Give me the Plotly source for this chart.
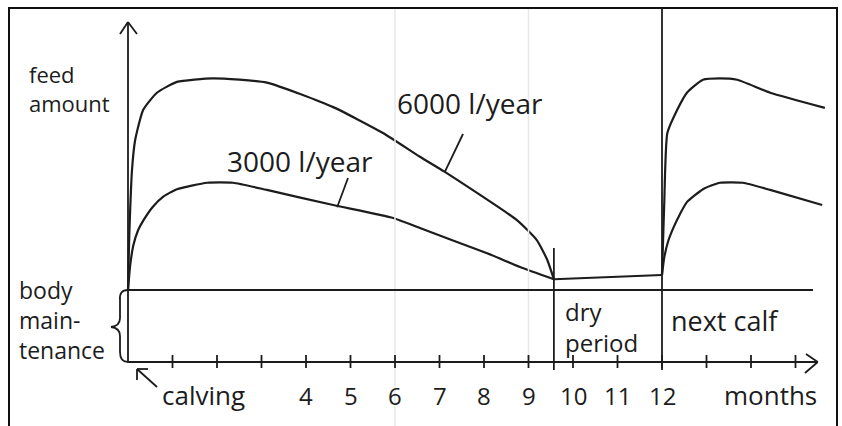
import plotly.graph_objects as go

# ---------------- data (months, feed amount in units of body maintenance) ----------
m6000 = [0.0, 0.02, 0.04, 0.09, 0.16, 0.34, 0.65, 1.10, 1.91, 3.12, 4.61, 5.73, 6.56, 7.12, 8.74, 9.19, 9.42, 9.57]
v6000 = [1.00, 1.56, 1.97, 2.67, 3.08, 3.50, 3.74, 3.89, 3.94, 3.88, 3.54, 3.18, 2.85, 2.64, 1.97, 1.69, 1.42, 1.15]

m3000 = [0.0, 0.05, 0.12, 0.22, 0.36, 0.55, 0.80, 1.10, 1.78, 2.36, 3.12, 4.61, 5.96, 6.56, 8.07, 8.81, 9.57]
v3000 = [1.00, 1.35, 1.62, 1.82, 1.98, 2.15, 2.30, 2.40, 2.49, 2.49, 2.39, 2.18, 2.00, 1.86, 1.51, 1.32, 1.15]

m_dry = [9.57, 12.0]
v_dry = [1.15, 1.21]

m6000_next = [12.0, 12.02, 12.05, 12.12, 12.34, 12.56, 12.92, 13.30, 13.69, 14.43, 15.66]
v6000_next = [1.21, 1.60, 2.20, 3.18, 3.50, 3.74, 3.92, 3.94, 3.92, 3.74, 3.53]

m3000_next = [12.0, 12.05, 12.14, 12.26, 12.40, 12.56, 12.92, 13.30, 13.82, 14.43, 15.60]
v3000_next = [1.21, 1.45, 1.68, 1.87, 2.05, 2.22, 2.40, 2.49, 2.49, 2.39, 2.18]

maintenance = 1.0
dry_start = 9.57
next_calf = 12.0
axis_end = 15.5
tick_months = list(range(1, 16))
tick_labels = ["", "", "", "4", "5", "6", "7", "8", "9", "10", "11", "12", "", "", ""]

# ---------------- pixel <-> data mapping ----------------
W, H = 842, 426
X0, SX = 128, 44.5
Y0, SY = 362, 72.0


def X(px):
    return (px - X0) / SX


def Y(py):
    return (Y0 - py) / SY


INK = "#1c1c1c"
FONT = "Open Sans"

fig = go.Figure()

line_style = dict(color=INK, width=2.2, shape="spline", smoothing=0.5)
for mx, vy in [(m6000, v6000), (m3000, v3000), (m6000_next, v6000_next), (m3000_next, v3000_next)]:
    fig.add_trace(go.Scatter(x=mx, y=vy, mode="lines", line=line_style, hoverinfo="skip"))
fig.add_trace(go.Scatter(x=m_dry, y=v_dry, mode="lines", line=dict(color=INK, width=2), hoverinfo="skip"))

shapes = []


def seg(x0, y0, x1, y1, w=1.8, color=INK):
    shapes.append(dict(type="line", xref="x", yref="y", x0=x0, y0=y0, x1=x1, y1=y1,
                       line=dict(color=color, width=w)))


# faint paper fold lines
seg(6.0, Y(8), 6.0, Y(426), w=1.5, color="#e8e8e8")
seg(9.0, Y(8), 9.0, Y(365), w=1.5, color="#e8e8e8")

# frame (no bottom edge)
shapes.append(dict(type="path", xref="paper", yref="paper",
                   path=f"M {9/W},0 L {9/W},{1-8/H} L {837/W},{1-8/H} L {837/W},0",
                   line=dict(color="#111", width=2)))

# axes
seg(0, 0, 0, Y(22))
seg(0, 0, axis_end, 0)
# axis arrowheads
seg(0, Y(22), X(120), Y(34))
seg(0, Y(22), X(137), Y(34))
seg(axis_end, 0, X(806), Y(354))
seg(axis_end, 0, X(805), Y(373))
# ticks
for t in tick_months:
    seg(t, Y(355), t, Y(368), w=1.8)

# body maintenance line
seg(0, maintenance, X(813), maintenance)
# dry period and next-calf separators
seg(dry_start, Y(248), dry_start, Y(370))
seg(next_calf, Y(8), next_calf, Y(370))

# leader lines for the curve labels
seg(7.12, 2.64, X(463), Y(134))
seg(4.70, 2.15, X(348), Y(178))

# calving arrow
seg(X(157), Y(387), X(137), Y(369))
seg(X(137), Y(369), X(148), Y(369))
seg(X(137), Y(369), X(137), Y(380))

# brace for body maintenance
pts = "M {a},{b} Q {c},{d} {e},{f} L {g},{h} Q {i},{j} {k},{l} Q {m},{n} {o},{p} L {q},{r} Q {s},{t} {u},{v}".format(
    a=X(128), b=Y(290), c=X(119), d=Y(290), e=X(120), f=Y(300),
    g=X(120), h=Y(318), i=X(120), j=Y(326), k=X(111), l=Y(327),
    m=X(120), n=Y(328), o=X(120), p=Y(336),
    q=X(120), r=Y(352), s=X(120), t=Y(362), u=X(128), v=Y(362))
shapes.append(dict(type="path", xref="x", yref="y", path=pts, line=dict(color=INK, width=1.8)))

annotations = []


def label(text, px, baseline, size=24, xanchor="left", nlines=1):
    # baseline refers to the last line; centre the block accordingly
    lh = 1.3 * size
    cy = baseline - 0.28 * size - (nlines - 1) * lh / 2
    annotations.append(dict(text=text, x=X(px), y=Y(cy), xref="x", yref="y",
                            xanchor=xanchor, yanchor="middle", showarrow=False, align="left",
                            font=dict(family=FONT, size=size, color=INK)))


label("feed<br>amount", 27, 109, 22, nlines=2)
label("6000 l/year", 470, 111, 28, "center")
label("3000 l/year", 300, 169, 28, "center")
label("body<br>main-<br>tenance", 17, 356, 23, nlines=3)
label("dry<br>period", 563, 349, 24, nlines=2)
label("next calf", 669, 328, 27)
label("calving", 160, 402, 26)
label("months", 722, 402, 26)
for t, lab in zip(tick_months, tick_labels):
    if lab:
        annotations.append(dict(text=lab, x=t, y=Y(402 - 0.28 * 24), xref="x", yref="y",
                                xanchor="center", yanchor="middle", showarrow=False,
                                font=dict(family=FONT, size=24, color=INK)))

fig.update_layout(
    width=W, height=H,
    margin=dict(l=0, r=0, t=0, b=0),
    paper_bgcolor="white", plot_bgcolor="white",
    showlegend=False,
    xaxis=dict(range=[X(0), X(W)], visible=False, fixedrange=True),
    yaxis=dict(range=[Y(H), Y(0)], visible=False, fixedrange=True),
    shapes=shapes,
    annotations=annotations,
)

fig.write_html("out.html", config={"displayModeBar": False},
               post_script="document.body.style.margin='0';document.body.style.overflow='hidden';")
